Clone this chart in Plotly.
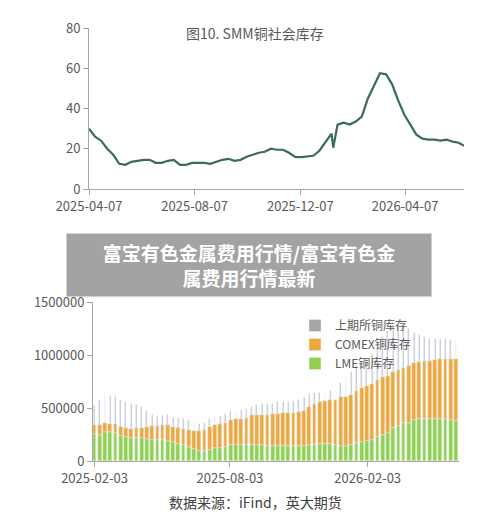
import plotly.graph_objects as go
import pandas as pd

# ---- top chart: SMM copper social inventory (10k t) ----
smm_dates = pd.to_datetime("2025-04-07") + pd.to_timedelta(
    [0,7,14,21,28,35,42,49,56,63,70,77,84,91,98,105,112,119,126,133,140,147,154,161,168,175,
     182,189,196,203,210,217,224,231,238,245,252,259,266,273,280,282,287,294,301,308,315,322,
     329,336,343,350,357,364,371,378,385,392,399,406,413,420,427,433], unit="D")
smm_vals = [30,26,24,20,17,12.5,12,13.5,14,14.5,14.5,13,13,14,14.5,12,12,13,13,13,12.5,13.5,14.5,15,14,14.5,
            16,17,18,18.5,20,19.5,19.5,18,16,15.8,16,16.5,19,23,27.5,20.5,32,33,32,33.5,36,45,
            51,57.5,57,52,44,37,32,27,25,24.5,24.5,24,24.5,23.5,23,21.5]
top_ticks = ["2025-04-07","2025-08-07","2025-12-07","2026-04-07"]

# ---- bottom chart: exchange copper inventories (t) ----
bar_dates = pd.date_range("2025-02-03", periods=70, freq="7D")
green_top_k = [255,245,270,275,260,240,225,220,215,215,210,200,195,195,185,175,160,150,130,110,95,90,105,120,125,130,
               150,155,155,155,155,155,150,145,145,140,140,140,140,140,140,150,155,160,160,160,150,145,145,150,
               170,180,185,200,225,250,265,310,330,355,360,385,395,395,395,400,400,395,385,380]
orange_top_k = [340,340,360,350,345,325,310,305,310,315,320,330,330,340,335,320,310,300,290,285,285,295,320,340,345,360,
                390,400,400,405,430,435,435,435,440,445,450,450,455,465,475,510,540,555,565,575,580,600,605,620,
                665,685,705,725,760,790,800,840,855,880,900,920,935,940,945,955,960,960,960,960]
gray_top_k = [520,580,615,615,605,575,555,535,530,505,470,435,415,425,435,410,410,395,385,360,350,360,395,425,425,440,
              470,470,480,495,510,530,535,535,535,560,560,560,570,580,590,635,645,645,660,665,550,740,785,835,
              895,910,960,1005,1040,1170,1225,1275,1285,1275,1250,1210,1190,1170,1155,1150,1150,1150,1140,1140]
lme = [g*1000 for g in green_top_k]
comex = [(o-g)*1000 for o, g in zip(orange_top_k, green_top_k)]
shfe = [max(s-o, 0)*1000 for s, o in zip(gray_top_k, orange_top_k)]
bottom_ticks = ["2025-02-03","2025-08-03","2026-02-03"]

FONT = "Noto Sans CJK SC"
AX = "#A6A6A6"
TXT = "#595959"
DAY = 86400000
W, H = 496, 527
DX, DY = -6, -7  # page offset correction

def px(x):
    return (x + DX) / W

def py(y):
    return 1 - (y + DY) / H

fig = go.Figure()
fig.add_trace(go.Scatter(x=smm_dates, y=smm_vals, mode="lines", line=dict(color="#3B6B5A", width=2.2),
                         xaxis="x", yaxis="y", showlegend=False))
fig.add_trace(go.Bar(x=bar_dates, y=lme, name="LME铜库存", marker_color="#92D050", width=5*DAY,
                     xaxis="x2", yaxis="y2"))
fig.add_trace(go.Bar(x=bar_dates, y=comex, name="COMEX铜库存", marker_color="#EDA93C", width=5*DAY,
                     xaxis="x2", yaxis="y2"))
fig.add_trace(go.Bar(x=bar_dates, y=shfe, name="上期所铜库存", marker_color="#A6A6A6", width=1.2*DAY,
                     xaxis="x2", yaxis="y2"))

axcommon = dict(showgrid=False, showline=True, linecolor=AX, ticks="outside", tickcolor=AX, automargin=False,
                tickfont=dict(color=TXT, size=13, family=FONT), zeroline=False)
fig.update_layout(
    width=W, height=H, margin=dict(l=0, r=0, t=0, b=0),
    paper_bgcolor="white", plot_bgcolor="white", barmode="relative", bargap=0,
    font=dict(family=FONT, color=TXT),
    xaxis=dict(domain=[px(87), px(462)], anchor="y", type="date",
               range=["2025-04-07", "2026-06-14"], tickvals=top_ticks, ticktext=top_ticks, **axcommon),
    yaxis=dict(domain=[py(188), py(27)], anchor="x", range=[0, 80], tickvals=[0,20,40,60,80], **axcommon),
    xaxis2=dict(domain=[px(91), px(457)], anchor="y2", type="date",
                range=["2025-02-01", "2026-06-05"], tickvals=bottom_ticks, ticktext=bottom_ticks, **axcommon),
    yaxis2=dict(domain=[py(460), py(301)], anchor="x2", range=[0, 1500000],
                tickvals=[0,500000,1000000,1500000], ticktext=["0","500000","1000000","1500000"], **axcommon),
    legend=dict(x=px(293), y=py(310), xanchor="left", yanchor="top", traceorder="reversed",
                font=dict(size=12, color=TXT, family=FONT), bgcolor="rgba(0,0,0,0)",
                itemwidth=30, tracegroupgap=0),
    annotations=[
        dict(text="图10. SMM铜社会库存", x=px(253), y=py(20), xref="paper", yref="paper",
             showarrow=False, font=dict(size=14, color=TXT, family=FONT)),
        dict(text="图11. 全球铜显性库存", x=px(253), y=py(287), xref="paper", yref="paper",
             showarrow=False, font=dict(size=14, color=TXT, family=FONT)),
        dict(text="<b>富宝有色金属费用行情/富宝有色金<br>属费用行情最新</b>", x=px(247), y=py(264),
             xref="paper", yref="paper", showarrow=False, align="center",
             font=dict(size=19, color="white", family=FONT), bgcolor="#A3A3A3",
             width=360, height=58, borderpad=2),
        dict(text="数据来源：iFind，英大期货", x=px(253), y=py(513), xref="paper", yref="paper",
             showarrow=False, font=dict(size=14, color="#404040", family=FONT)),
    ],
)
fig.write_html("out.html")
